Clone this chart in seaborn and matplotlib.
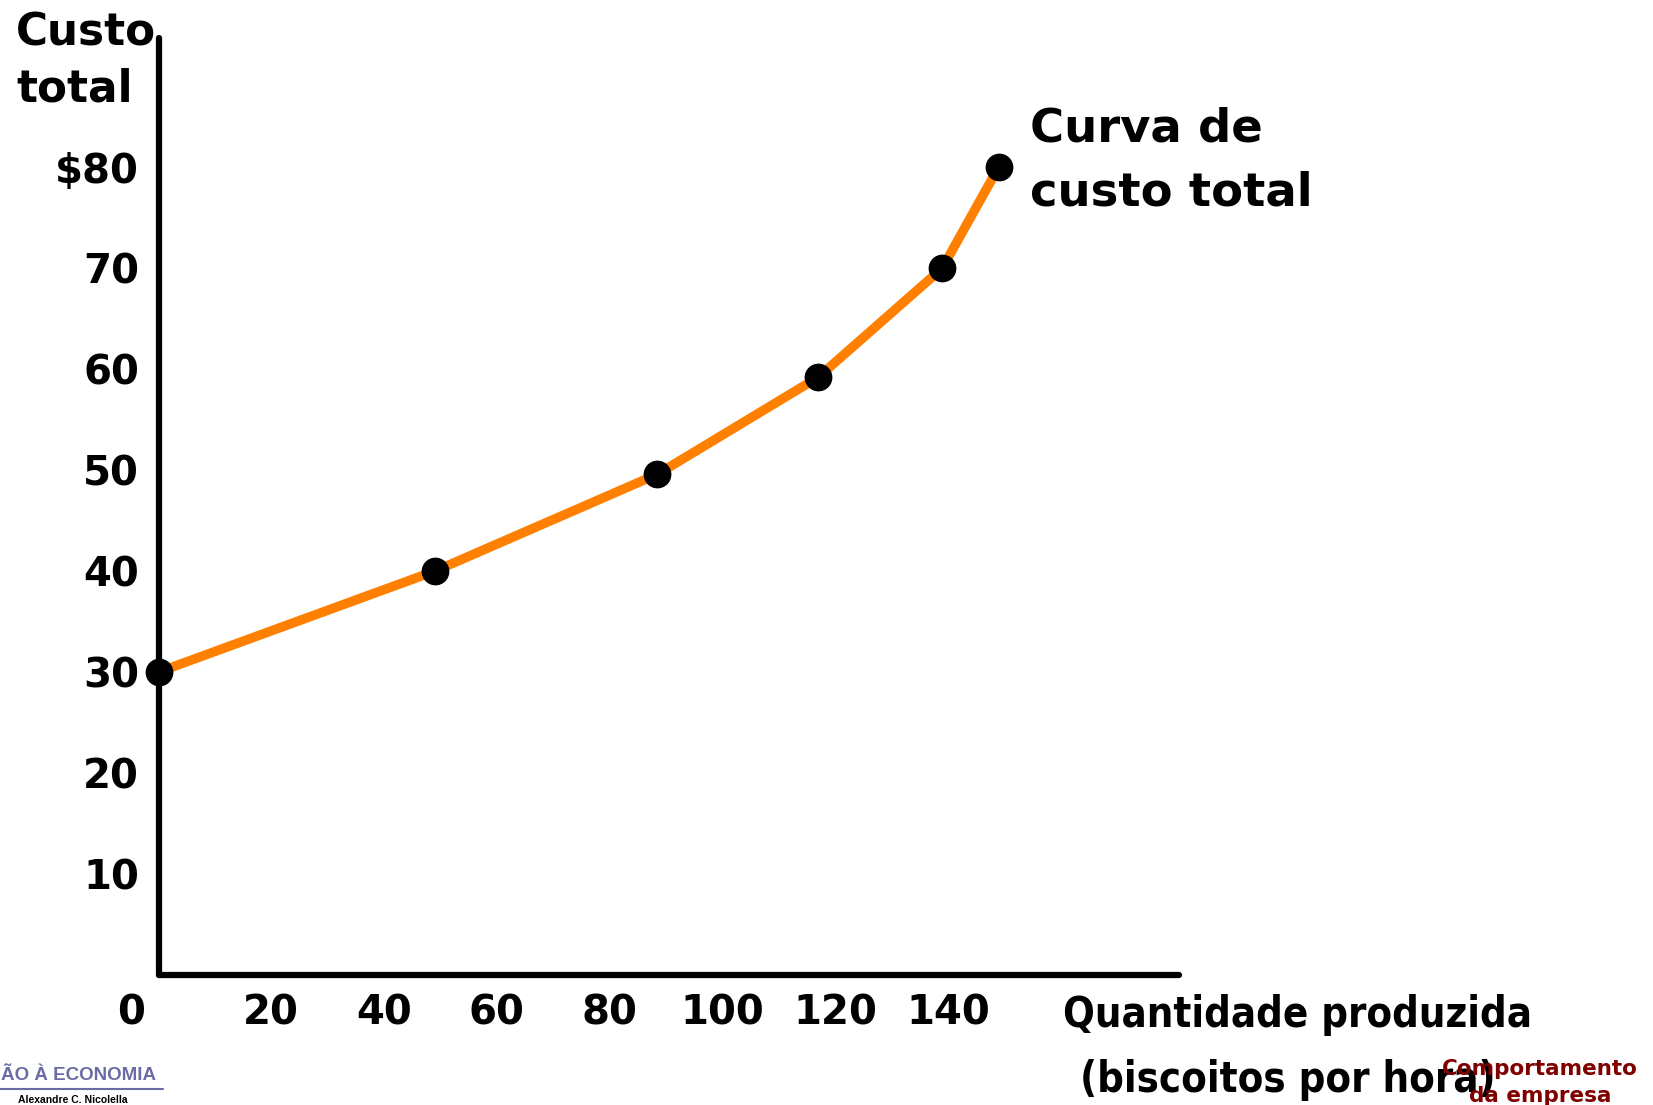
# Curva de custo total - recriacao com seaborn
import matplotlib
matplotlib.use("Agg")
import matplotlib.pyplot as plt
import seaborn as sns
import pandas as pd
from matplotlib.lines import Line2D

# ===============================
# Dados
# ===============================
quantidade = [0, 49, 88.5, 117, 139, 149]
custo_total = [30, 40, 49.6, 59.2, 70, 80]

x_ticks = [10, 20, 30, 40, 50, 60, 70, 80, 90, 100, 110, 120, 130, 140, 150]
x_labels = ["", "20", "", "40", "", "60", "", "80", "", "100", "", "120", "", "140", ""]
y_ticks = [10, 20, 30, 40, 50, 60, 70, 80]
y_labels = ["10", "20", "30", "40", "50", "60", "70", "$80"]

df = pd.DataFrame({"quantidade": quantidade, "custo": custo_total})

sns.set_style("white")
plt.rcParams["font.family"] = ["DejaVu Sans"]
plt.rcParams["font.weight"] = "bold"
plt.rcParams["text.color"] = "black"

W, H = 1653, 1105
fig = plt.figure(figsize=(W / 100, H / 100), dpi=100)
ax = fig.add_axes([158.5 / W, 1 - 975 / H, 1020.5 / W, 937 / H])

# curva laranja + pontos pretos
sns.lineplot(data=df, x="quantidade", y="custo", ax=ax, color="#FF8000",
             linewidth=6.8, sort=True, clip_on=False, zorder=3)
sns.scatterplot(data=df, x="quantidade", y="custo", ax=ax, color="black",
                s=400, edgecolor="black", linewidth=0, clip_on=False, zorder=4)

ax.set_xlim(0, 181)
ax.set_ylim(0, 92.8)

for side in ["top", "right"]:
    ax.spines[side].set_visible(False)
for side in ["left", "bottom"]:
    ax.spines[side].set_linewidth(4.5)
    ax.spines[side].set_color("black")
    ax.spines[side].set_capstyle("round")

ax.set_xticks(x_ticks)
ax.set_xticklabels(x_labels)
ax.set_yticks(y_ticks)
ax.set_yticklabels(y_labels)
ax.tick_params(axis="x", direction="in", length=14, width=1.5, pad=13,
               labelsize=29, colors="black")
ax.tick_params(axis="y", direction="in", length=17, width=1.5, pad=14,
               labelsize=29, colors="black")
for lab in ax.get_xticklabels() + ax.get_yticklabels():
    lab.set_fontweight("bold")
ax.set_xlabel("")
ax.set_ylabel("")

# o "0" da origem fica deslocado para a esquerda
ax.annotate("0", xy=(0, 0), xycoords="data", xytext=(-20, -13),
            textcoords="offset points", ha="center", va="top",
            fontsize=29, fontweight="bold", color="black",
            annotation_clip=False)


def ftext(x, y_base, s, **kw):
    # posicao em pixels (origem no topo), alinhada pela linha de base
    kw.setdefault("color", "black")
    fig.text(x / W, 1 - y_base / H, s, va="baseline", **kw)


ftext(16, 45, "Custo", fontsize=31.5, fontweight="bold")
ftext(16, 102, "total", fontsize=31.5, fontweight="bold")

ftext(1030, 142, "Curva de", fontsize=33.5, fontweight="bold")
ftext(1030, 205, "custo total", fontsize=33.5, fontweight="bold")

ftext(1063, 1027, "Quantidade produzida", fontsize=30, fontweight="bold",
      fontstretch="condensed")
ftext(1080, 1092, "(biscoitos por hora)", fontsize=30, fontweight="bold",
      fontstretch="condensed")

# rodape
ftext(1, 1080, "ÃO À ECONOMIA", fontsize=13.5, fontweight="bold",
      color="#6B6BA5", family="Liberation Sans")
fig.add_artist(Line2D([0, 163 / W], [1 - 1089 / H, 1 - 1089 / H],
                      color="#6B6BA5", linewidth=1.5))
ftext(18, 1103, "Alexandre C. Nicolella", fontsize=7.5, fontweight="bold",
      family="Liberation Sans")

ftext(1540, 1075, "Comportamento", fontsize=15.5, fontweight="bold",
      color="#800000", ha="center")
ftext(1540, 1102, "da empresa", fontsize=15.5, fontweight="bold",
      color="#800000", ha="center")

fig.savefig("out.png", dpi=100)
